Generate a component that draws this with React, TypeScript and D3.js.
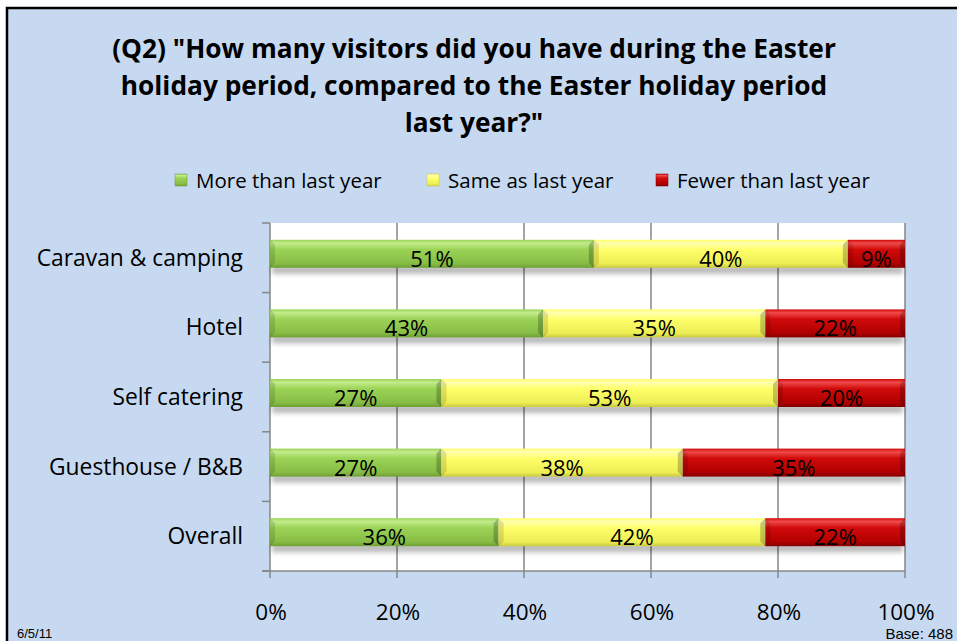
import React from "react";
import * as d3 from "d3";

const categories = ["Caravan & camping", "Hotel", "Self catering", "Guesthouse / B&B", "Overall"];
const moreValues = [51, 43, 27, 27, 36];
const sameValues = [40, 35, 53, 38, 42];
const fewerValues = [9, 22, 20, 35, 22];
const seriesNames = ["More than last year", "Same as last year", "Fewer than last year"];
const xTicks = [0, 20, 40, 60, 80, 100];
const titleLines = [
  '(Q2) "How many visitors did you have during the Easter',
  "holiday period, compared to the Easter holiday period",
  'last year?"',
];

const W = 957;
const H = 641;
const FONT = "'Open Sans', 'DejaVu Sans', sans-serif";

const gradients = [
  { id: "gGreen", top: "#C3EC8C", mid: "#9BD356", bot: "#86BC45", edge: "#6E9E33" },
  { id: "gYellow", top: "#FFFFB0", mid: "#FFFF6A", bot: "#EDED55", edge: "#C9C940" },
  { id: "gRed", top: "#F04A4A", mid: "#D00A0A", bot: "#B00000", edge: "#800000" },
];

export default function App() {
  const x = d3.scaleLinear().domain([0, 100]).range([270, 905]);
  const y = d3.scaleBand<string>().domain(categories).range([223, 571]).padding(0);
  const bw = y.bandwidth();
  const barH = 28;

  const stack = categories.map((c, i) => {
    const vals = [moreValues[i], sameValues[i], fewerValues[i]];
    let acc = 0;
    return vals.map((v, s) => {
      const seg = { cat: c, s, v, x0: acc, x1: acc + v };
      acc += v;
      return seg;
    });
  });

  const legendX = [175, 427, 656];

  return (
    <svg
      width={W}
      height={H}
      style={{ position: "absolute", left: 0, top: 0, display: "block", background: "#fff" }}
    >
      <defs>
        {gradients.map((g) => (
          <linearGradient key={g.id} id={g.id} x1="0" y1="0" x2="0" y2="1">
            <stop offset="0" stopColor={g.mid} />
            <stop offset="0.12" stopColor={g.top} />
            <stop offset="0.35" stopColor={g.mid} />
            <stop offset="0.85" stopColor={g.bot} />
            <stop offset="1" stopColor={g.edge} />
          </linearGradient>
        ))}
        <filter id="shadow" x="-5%" y="-50%" width="110%" height="200%">
          <feGaussianBlur stdDeviation="2.5" />
        </filter>
      </defs>

      {/* chart background */}
      <rect x={7} y={8} width={W + 10} height={H + 10} fill="#C6D9F1" stroke="#000" strokeWidth={2.5} />

      {/* title */}
      {titleLines.map((t, i) => (
        <text
          key={i}
          x={474}
          y={58 + i * 37}
          textAnchor="middle"
          fontFamily={FONT}
          fontWeight="bold"
          fontSize={26.3}
          fill="#000"
        >
          {t}
        </text>
      ))}

      {/* legend */}
      {seriesNames.map((n, i) => (
        <g key={n}>
          <rect x={legendX[i]} y={174} width={12} height={12} fill={`url(#${gradients[i].id})`} stroke={gradients[i].edge} strokeWidth={0.5} />
          <text x={legendX[i] + 21} y={188} fontFamily={FONT} fontSize={20.5} fill="#000">
            {n}
          </text>
        </g>
      ))}

      {/* plot area */}
      <rect x={x(0)} y={223} width={x(100) - x(0)} height={571 - 223} fill="#fff" />

      {/* gridlines */}
      {xTicks.map((t) => (
        <line key={t} x1={x(t)} x2={x(t)} y1={223} y2={578} stroke="#868686" strokeWidth={1.5} />
      ))}

      {/* y axis ticks */}
      {[...categories.map((c) => y(c) as number), 571].map((yy, i) => (
        <line key={i} x1={262} x2={270} y1={yy} y2={yy} stroke="#868686" strokeWidth={1.5} />
      ))}
      <line x1={262} x2={x(100)} y1={571} y2={571} stroke="#868686" strokeWidth={1.5} />

      {/* bars */}
      {stack.map((segs, ci) => {
        const bandTop = y(categories[ci]) as number;
        const cy = bandTop + bw / 2;
        const by = cy - 18;
        const x0 = x(0);
        const x1 = x(100);
        return (
          <g key={ci}>
            <rect x={x0 + 2} y={by + barH - 2} width={x1 - x0 - 4} height={8} fill="#000" opacity={0.28} filter="url(#shadow)" />
            {segs.map((s) => {
              const sx = x(s.x0);
              const sw = x(s.x1) - x(s.x0);
              const g = gradients[s.s];
              const e = 5;
              return (
                <g key={s.s}>
                  <rect x={sx} y={by} width={sw} height={barH} fill={`url(#${g.id})`} />
                  <path
                    d={`M${sx},${by} L${sx + e},${by + e} L${sx + e},${by + barH - e} L${sx},${by + barH} Z`}
                    fill="#000"
                    opacity={0.12}
                  />
                  <path
                    d={`M${sx + sw},${by} L${sx + sw - e},${by + e} L${sx + sw - e},${by + barH - e} L${sx + sw},${by + barH} Z`}
                    fill="#000"
                    opacity={0.22}
                  />
                  <text
                    x={sx + sw / 2}
                    y={by + barH - 1}
                    textAnchor="middle"
                    fontFamily={FONT}
                    fontSize={22}
                    fill="#000"
                  >
                    {`${s.v}%`}
                  </text>
                </g>
              );
            })}
          </g>
        );
      })}

      {/* category labels */}
      {categories.map((c) => (
        <text
          key={c}
          x={243}
          y={(y(c) as number) + bw / 2 + 8}
          textAnchor="end"
          fontFamily={FONT}
          fontSize={22.8}
          fill="#000"
        >
          {c}
        </text>
      ))}

      {/* x tick labels */}
      {xTicks.map((t) => (
        <text key={t} x={x(t) + 1} y={620} textAnchor="middle" fontFamily={FONT} fontSize={22.5} fill="#000">
          {`${t}%`}
        </text>
      ))}

      {/* footers */}
      <text x={17} y={638} fontFamily="'Liberation Sans', Arial, sans-serif" fontSize={13} fill="#000">
        6/5/11
      </text>
      <text x={953} y={639} textAnchor="end" fontFamily="'Liberation Sans', Arial, sans-serif" fontSize={15} fill="#000">
        Base: 488
      </text>
    </svg>
  );
}
